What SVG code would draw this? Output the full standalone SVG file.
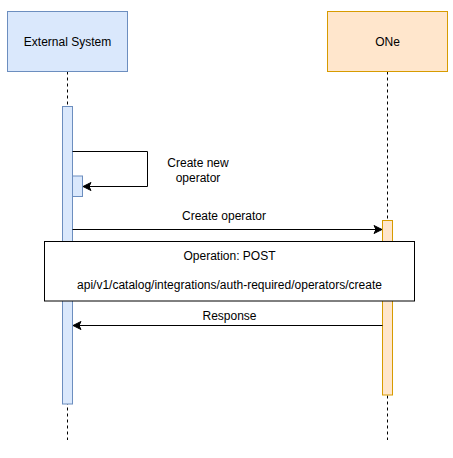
<svg xmlns="http://www.w3.org/2000/svg" width="453" height="458" viewBox="0 0 453 458">
<style>
text{font-family:"Liberation Sans",Arial,sans-serif;font-size:12px;fill:#000;text-anchor:middle;dominant-baseline:central}
.life{stroke:#000;stroke-dasharray:3 3;fill:none}
.blue{fill:#dae8fc;stroke:#6c8ebf}
.orange{fill:#ffe6cc;stroke:#d79b00}
.msg{stroke:#000;fill:none}
</style>
<defs>
<marker id="arr" viewBox="0 0 10 10" refX="9" refY="5" markerWidth="10" markerHeight="10" markerUnits="userSpaceOnUse" orient="auto">
<path d="M1,1 L9,5 L1,9 L3,5 Z" fill="#000" stroke="#000" stroke-width="1"/>
</marker>
</defs>
<rect width="453" height="458" fill="#fff"/>
<g id="ext">
<line class="life" x1="67.5" y1="71.5" x2="67.5" y2="440"/>
<rect class="blue" x="7.5" y="11.5" width="120" height="60"/>
<text x="67.5" y="41.5">External System</text>
</g>
<g id="one">
<line class="life" x1="387.5" y1="71.5" x2="387.5" y2="440"/>
<rect class="orange" x="327.5" y="11.5" width="120" height="60"/>
<text x="387.5" y="41.5">ONe</text>
</g>
<g id="ext-act">
<rect class="blue" x="62.5" y="106.5" width="10" height="297.5"/>
</g>
<g id="ext-act2">
<rect class="blue" x="72.5" y="176" width="10" height="20.5"/>
</g>
<g id="one-act">
<rect class="orange" x="382.5" y="220.5" width="10" height="174.5"/>
</g>
<g id="connectors">
<path class="msg" d="M72.5,151.5 H147.5 V186.5 H83" marker-end="url(#arr)"/>
<text x="198" y="163">Create new</text>
<text x="198" y="177.5">operator</text>
<path class="msg" d="M72.5,229.5 H382" marker-end="url(#arr)"/>
<text x="224" y="215.5">Create operator</text>
<path class="msg" d="M382.5,325.5 H73" marker-end="url(#arr)"/>
<text x="229.5" y="315.5">Response</text>
</g>
<g id="operation">
<rect x="44.5" y="241.5" width="370" height="59.5" fill="#fff" stroke="#000"/>
<text x="229.5" y="256">Operation: POST</text>
<text x="229.5" y="285">api/v1/catalog/integrations/auth-required/operators/create</text>
</g>
</svg>
